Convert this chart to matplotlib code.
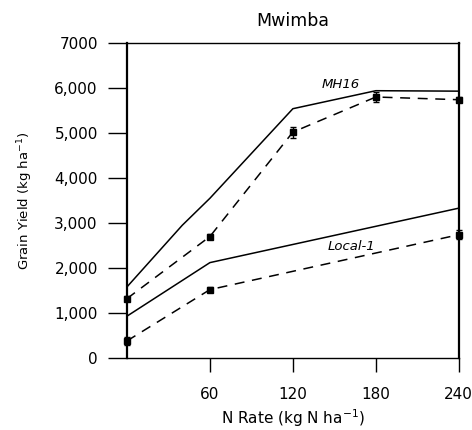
import numpy as np
import matplotlib
matplotlib.use('Agg')
from matplotlib import pyplot as plt

plt.rcParams['font.family'] = ['DejaVu Sans']
plt.rcParams['mathtext.default'] = 'regular'

# observed means (dashed, with error bars)
n_obs = [0, 60, 120, 180, 240]
mh16_obs = [1320, 2700, 5020, 5800, 5740]
mh16_err = [60, 60, 120, 120, 60]
n_local = [0, 60, 240]
local_obs = [380, 1520, 2740]
local_err = [80, 50, 100]

# fitted response (solid)
mh16_fit_x = [0, 40, 60, 120, 180, 240]
mh16_fit_y = [1580, 2950, 3550, 5540, 5940, 5930]
local_fit_x = [0, 60, 240]
local_fit_y = [930, 2120, 3330]

yticks = [0, 1000, 2000, 3000, 4000, 5000, 6000, 7000]
ytick_labels = ['0', '1,000', '2,000', '3,000', '4,000', '5,000', '6,000', '7000']
xticks = [60, 120, 180, 240]

fig = plt.figure(figsize=(4.72, 4.30), dpi=100)
ax = fig.add_axes([0.269, 0.1674, 0.703, 0.7326])

ax.plot(mh16_fit_x, mh16_fit_y, '-', color='black', lw=1.1)
ax.plot(local_fit_x, local_fit_y, '-', color='black', lw=1.1)

# dashed observed lines
ax.plot(n_obs, mh16_obs, '--', color='black', lw=1.1, dashes=(6.5, 5))
ax.plot(n_local, local_obs, '--', color='black', lw=1.1, dashes=(6.5, 5))

ax.errorbar(n_obs, mh16_obs, yerr=mh16_err, fmt='s', ms=4.5, color='black',
            capsize=2, elinewidth=1, clip_on=False)
ax.errorbar(n_local, local_obs, yerr=local_err, fmt='s', ms=4.5, color='black',
            capsize=2, elinewidth=1, clip_on=False)

ax.text(141, 6000, 'MH16', style='italic', fontsize=9.5)
ax.text(145, 2400, 'Local-1', style='italic', fontsize=9.5)

ax.set_xlim(0, 240)
ax.set_ylim(0, 7000)
ax.set_xticks(xticks)
ax.set_xticklabels([str(x) for x in xticks], fontsize=11)
ax.set_yticks(yticks)
ax.set_yticklabels(ytick_labels, fontsize=11)
ax.tick_params(axis='y', direction='out', length=14, width=1, pad=7)
ax.tick_params(axis='x', direction='out', length=10, width=1, pad=11)
for s in ['left', 'right']:
    ax.spines[s].set_linewidth(1.6)
for s in ['top', 'bottom']:
    ax.spines[s].set_linewidth(1.0)

ax.set_title('Mwimba', fontsize=12.5, pad=12)
ax.set_xlabel('N Rate (kg N ha$^{-1}$)', fontsize=11, labelpad=4)
ax.set_ylabel('Grain Yield (kg ha$^{-1}$)', fontsize=9.5, labelpad=14)

fig.savefig('out.png', dpi=100)
